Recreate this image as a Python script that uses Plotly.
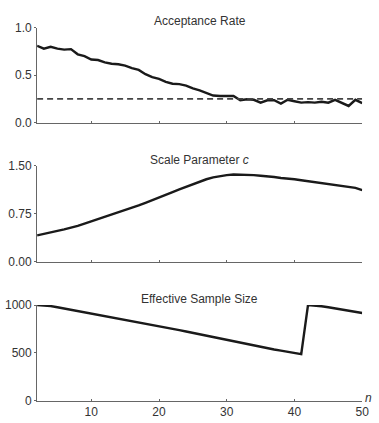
import plotly.graph_objects as go

# Iteration index
n = list(range(2, 51))

# Acceptance rate per iteration
acceptance = [0.81, 0.78, 0.80, 0.78, 0.77, 0.775, 0.72, 0.70, 0.665, 0.66,
              0.635, 0.62, 0.615, 0.60, 0.575, 0.555, 0.51, 0.48, 0.46, 0.43,
              0.41, 0.405, 0.39, 0.36, 0.34, 0.315, 0.285, 0.28, 0.28, 0.28,
              0.235, 0.245, 0.24, 0.21, 0.235, 0.235, 0.20, 0.24, 0.225, 0.21,
              0.215, 0.21, 0.22, 0.21, 0.24, 0.21, 0.175, 0.24, 0.205]
target_rate = 0.25

# Scale parameter c per iteration
scale_c = [0.41, 0.43, 0.455, 0.48, 0.505, 0.53, 0.56, 0.595, 0.63, 0.66,
           0.695, 0.73, 0.765, 0.80, 0.84, 0.88, 0.92, 0.965, 1.01, 1.05,
           1.09, 1.13, 1.17, 1.21, 1.255, 1.29, 1.32, 1.34, 1.355, 1.365,
           1.365, 1.365, 1.355, 1.345, 1.34, 1.325, 1.31, 1.305, 1.29, 1.275,
           1.26, 1.245, 1.23, 1.215, 1.20, 1.19, 1.17, 1.155, 1.12]

# Effective sample size per iteration
ess = [1000, 998, 990, 978, 965, 950, 936, 922, 908, 896,
       884, 872, 860, 848, 836, 823, 810, 796, 781, 767,
       753, 738, 724, 709, 694, 680, 665, 650, 636, 621,
       606, 591, 576, 562, 549, 536, 524, 512, 500, 488,
       1000, 996, 988, 978, 967, 955, 943, 930, 917]

titles = ["Acceptance Rate", "Scale Parameter <i>c</i>", "Effective Sample Size"]
y_ranges = [[0, 1.0], [0, 1.5], [0, 1000]]
y_ticks = [[0.0, 0.5, 1.0], [0.0, 0.75, 1.5], [0, 500, 1000]]
y_ticktext = [["0.0", "0.5", "1.0"], ["0.00", "0.75", "1.50"], ["0", "500", "1000"]]
x_ticks = [10, 20, 30, 40, 50]

W, H = 379, 423
x_dom = [37.8 / W, 369 / W]
# panel top / bottom in pixels
panels_px = [(21.5, 119.5), (164.3, 263.3), (308.3, 407.3)]
y_doms = [[1 - b / H, 1 - t / H] for t, b in panels_px]
title_y_px = [14, 158, 302]

LINE = "#1a1a1a"
AXIS = "#666666"
TEXT = "#333333"
FONT = "Liberation Sans, Arial, Helvetica, sans-serif"

fig = go.Figure()
series = [acceptance, scale_c, ess]
for i, vals in enumerate(series):
    xa = "x" if i == 0 else f"x{i+1}"
    ya = "y" if i == 0 else f"y{i+1}"
    fig.add_trace(go.Scatter(x=n, y=vals, mode="lines", xaxis=xa, yaxis=ya,
                             line=dict(color=LINE, width=2.4), showlegend=False,
                             hoverinfo="skip"))
    if i == 0:
        fig.add_trace(go.Scatter(x=[n[0], n[-1]], y=[target_rate, target_rate],
                                 mode="lines", xaxis=xa, yaxis=ya,
                                 line=dict(color="#444444", width=1.8, dash="6px,4px"),
                                 showlegend=False, hoverinfo="skip"))

layout = dict(
    width=W, height=H,
    margin=dict(l=0, r=0, t=0, b=0),
    paper_bgcolor="white", plot_bgcolor="white",
    font=dict(family=FONT, size=12, color=TEXT),
)
for i in range(3):
    xk = "xaxis" if i == 0 else f"xaxis{i+1}"
    yk = "yaxis" if i == 0 else f"yaxis{i+1}"
    ya = "y" if i == 0 else f"y{i+1}"
    xa = "x" if i == 0 else f"x{i+1}"
    layout[xk] = dict(domain=x_dom, anchor=ya, range=[2, 50], tickvals=x_ticks,
                      showticklabels=(i == 2), showgrid=False, zeroline=False,
                      showline=True, linecolor=AXIS, linewidth=1,
                      ticks="inside", ticklen=2, tickcolor=AXIS,
                      tickfont=dict(size=12, color=TEXT, family=FONT),
                      fixedrange=True)
    layout[yk] = dict(domain=y_doms[i], anchor=xa, range=y_ranges[i],
                      tickvals=y_ticks[i], ticktext=y_ticktext[i],
                      showgrid=False, zeroline=False,
                      showline=True, linecolor=AXIS, linewidth=1,
                      ticks="outside", ticklen=2, tickcolor=AXIS,
                      tickfont=dict(size=12, color=TEXT, family=FONT),
                      fixedrange=True)

annotations = []
for i, t in enumerate(titles):
    annotations.append(dict(text=t, x=(x_dom[0] + x_dom[1]) / 2, y=1 - title_y_px[i] / H,
                            xref="paper", yref="paper", showarrow=False,
                            xanchor="center", yanchor="middle",
                            font=dict(size=12, color=TEXT, family=FONT)))
annotations.append(dict(text="<i>n</i>", x=375 / W, y=1 - 404 / H, xref="paper", yref="paper",
                        showarrow=False, xanchor="center", yanchor="middle",
                        font=dict(size=12, color=TEXT, family=FONT)))
layout["annotations"] = annotations

fig.update_layout(**layout)
# remove the default page margin so the figure fills the window exactly
fig.write_html("out.html", config={"displayModeBar": False},
               post_script="document.body.style.margin='0';"
                           "document.body.style.overflow='hidden';")
